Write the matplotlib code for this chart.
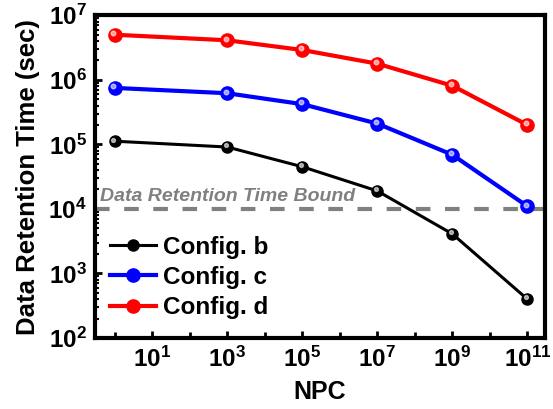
import matplotlib
matplotlib.use("Agg")
import matplotlib.pyplot as plt
import matplotlib.transforms as mtransforms
from matplotlib.ticker import FixedLocator, LogLocator, NullFormatter

plt.rcParams["font.family"] = ["Liberation Sans", "DejaVu Sans"]
plt.rcParams["font.weight"] = "bold"
plt.rcParams["mathtext.fontset"] = "custom"
plt.rcParams["mathtext.bf"] = "Liberation Sans:bold"
plt.rcParams["mathtext.rm"] = "Liberation Sans:bold"

# data
npc = [1, 1e3, 1e5, 1e7, 1e9, 1e11]
config_b = [1.12e5, 9.1e4, 4.5e4, 1.9e4, 4.1e3, 4.0e2]
config_c = [7.5e5, 6.2e5, 4.2e5, 2.1e5, 6.9e4, 1.1e4]
config_d = [5.0e6, 4.1e6, 2.9e6, 1.78e6, 8.1e5, 2.0e5]
retention_bound = 1e4

x_tick_exps = [1, 3, 5, 7, 9, 11]
y_tick_exps = [2, 3, 4, 5, 6, 7]

fig = plt.figure(figsize=(5.53, 4.09), dpi=100)
ax = fig.add_axes([0.172, 0.1736, 0.814, 0.789])

series = [
    (config_b, "black", "Config. b", 2.2, 8),
    (config_c, "#0000FF", "Config. c", 3.0, 9.5),
    (config_d, "#FF0000", "Config. d", 3.0, 9.5),
]

highlight = mtransforms.offset_copy(ax.transData, fig=fig, x=-1.2, y=1.2, units="points")
for values, color, label, lw, ms in series:
    ax.plot(npc, values, color=color, linewidth=lw, marker="o", markersize=ms,
            markerfacecolor=color, markeredgecolor=color, label=label, zorder=3)
    # small shine on the markers
    ax.plot(npc, values, linestyle="none", marker="o", markersize=ms * 0.35,
            color="white", alpha=0.6, transform=highlight, zorder=4)

ax.axhline(retention_bound, color="#808080", linestyle=(0, (3.5, 3.5)), linewidth=3, zorder=2, clip_on=False)
ax.text(0.4, 1.15e4, "Data Retention Time Bound", color="#808080", fontsize=14,
        fontstyle="italic", fontweight="bold", va="bottom", ha="left")

ax.set_xscale("log")
ax.set_yscale("log")
ax.set_xlim(0.3, 3e11)
ax.set_ylim(1e2, 1e7)

ax.xaxis.set_major_locator(FixedLocator([10.0 ** e for e in x_tick_exps]))
ax.set_xticklabels([r"$\mathbf{10^{%d}}$" % e for e in x_tick_exps])
ax.xaxis.set_minor_locator(LogLocator(base=10, subs=[1.0], numticks=20))
ax.xaxis.set_minor_formatter(NullFormatter())
ax.yaxis.set_major_locator(FixedLocator([10.0 ** e for e in y_tick_exps]))
ax.set_yticklabels([r"$\mathbf{10^{%d}}$" % e for e in y_tick_exps])
ax.yaxis.set_minor_locator(LogLocator(base=10, subs=[2, 3, 4, 5, 6, 7, 8, 9], numticks=20))
ax.yaxis.set_minor_formatter(NullFormatter())

ax.tick_params(axis="both", which="major", direction="in", length=5, width=2,
               labelsize=17.5, pad=6)
ax.tick_params(axis="both", which="minor", direction="in", length=3, width=1.5)
ax.tick_params(axis="x", which="minor", length=4, width=2)

for spine in ax.spines.values():
    spine.set_linewidth(3)

ax.set_xlabel("NPC", fontsize=18, fontweight="bold", labelpad=6)
ax.set_ylabel("Data Retention Time (sec)", fontsize=18.5, fontweight="bold", labelpad=6)

ax.legend(loc="upper left", bbox_to_anchor=(-0.005, 0.37), frameon=False, fontsize=17.5,
          handlelength=1.9, handletextpad=0.3, labelspacing=0.3, borderaxespad=0.3)

fig.savefig("out.png", dpi=100)
